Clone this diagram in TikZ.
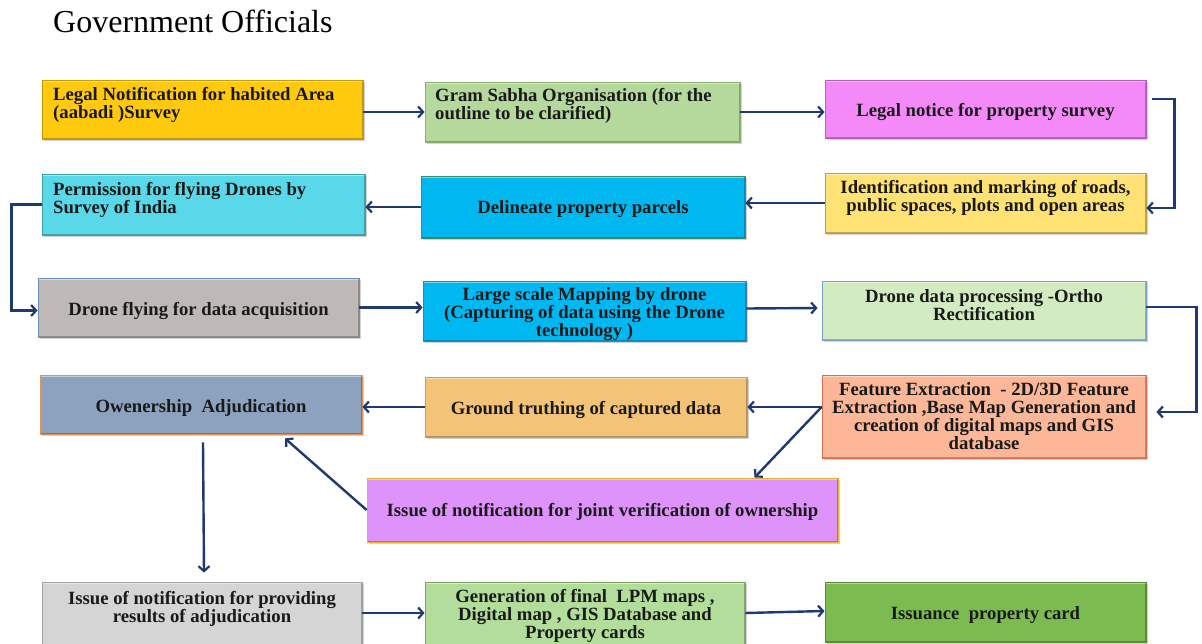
\documentclass[tikz,border=0pt]{standalone}
\usepackage{fontspec}
\setmainfont{Liberation Serif}
\usetikzlibrary{arrows.meta,shadows}
\definecolor{navy}{HTML}{1F3A6E}
\definecolor{cA1}{HTML}{FFC90E}\definecolor{dA1}{HTML}{C89B00}
\definecolor{cA2}{HTML}{B5D89D}\definecolor{dA2}{HTML}{8DB070}
\definecolor{cA3}{HTML}{F38AF8}\definecolor{dA3}{HTML}{B060B8}
\definecolor{cB1}{HTML}{58D8E8}\definecolor{dB1}{HTML}{3AA0A0}
\definecolor{cB2}{HTML}{00B7F0}\definecolor{dB2}{HTML}{3C8C6E}
\definecolor{cB3}{HTML}{FFE174}\definecolor{dB3}{HTML}{B8A040}
\definecolor{cC1}{HTML}{BEB9B7}\definecolor{dC1}{HTML}{6C8EBF}
\definecolor{cC2}{HTML}{00B8F1}\definecolor{dC2}{HTML}{3D7FB0}
\definecolor{cC3}{HTML}{D3EBC1}\definecolor{dC3}{HTML}{7F9FC0}
\definecolor{cD1}{HTML}{8DA2BF}\definecolor{dD1}{HTML}{E0915A}
\definecolor{cD2}{HTML}{F3C478}\definecolor{dD2}{HTML}{E0915A}
\definecolor{cD3}{HTML}{FBB797}\definecolor{dD3}{HTML}{D07050}
\definecolor{cE}{HTML}{DD93F9}\definecolor{dE}{HTML}{E8B030}
\definecolor{cF1}{HTML}{D5D5D5}\definecolor{dF1}{HTML}{A0A0A0}
\definecolor{cF2}{HTML}{B3DD9A}\definecolor{dF2}{HTML}{80A060}
\definecolor{cF3}{HTML}{7CBB50}\definecolor{dF3}{HTML}{5A8A3A}
\tikzset{
  box/.style={rectangle, inner sep=0pt, line width=0.8pt,
    drop shadow={shadow xshift=1.5pt,shadow yshift=-1.5pt,opacity=.35},
    path picture={
      \draw[white,opacity=.45,line width=3pt] (path picture bounding box.north west) -- (path picture bounding box.north east);
      \draw[black,opacity=.25,line width=3pt] (path picture bounding box.south west) -- (path picture bounding box.south east) -- (path picture bounding box.north east);
    }},
  txt/.style={inner sep=0pt, align=center, font=\bfseries\fontsize{18.7}{18}\selectfont, text=black!90},
  arr/.style={draw=navy, line width=2.4pt, -{Straight Barb[length=5pt,width=11pt,line width=2.2pt]}}
}
\begin{document}
\begin{tikzpicture}[x=1pt,y=-1pt]
\useasboundingbox (0,0) rectangle (1202,643);
\clip (0,0) rectangle (1202,643);
\fill[white] (0,0) rectangle (1202,643);

\node[anchor=base west, inner sep=0pt, font=\fontsize{32}{36}\selectfont] (title) at (53,32) {Government Officials};

% boxes
\node[box, fill=cA1, draw=dA1, minimum width=321pt, minimum height=59pt] (a1) at (202.5,109.5) {};
\node[box, fill=cA2, draw=dA2, minimum width=315pt, minimum height=60pt] (a2) at (582.5,112) {};
\node[box, fill=cA3, draw=dA3, minimum width=321pt, minimum height=58pt] (a3) at (985.5,109) {};
\node[box, fill=cB1, draw=dB1, minimum width=323pt, minimum height=61pt] (b1) at (203.5,204.5) {};
\node[box, fill=cB2, draw=dB2, minimum width=324pt, minimum height=62pt] (b2) at (583,207) {};
\node[box, fill=cB3, draw=dB3, minimum width=321pt, minimum height=60pt] (b3) at (985.5,203) {};
\node[box, fill=cC1, draw=dC1, minimum width=321pt, minimum height=59pt] (c1) at (198.5,307.5) {};
\node[box, fill=cC2, draw=dC2, minimum width=323pt, minimum height=60pt] (c2) at (584.5,311.5) {};
\node[box, fill=cC3, draw=dC3, minimum width=324pt, minimum height=59pt] (c3) at (984,310.5) {};
\node[box, fill=cD1, draw=dD1, minimum width=322pt, minimum height=59pt] (d1) at (201,404.5) {};
\node[box, fill=cD2, draw=dD2, minimum width=322pt, minimum height=60pt] (d2) at (586,407) {};
\node[box, fill=cD3, draw=dD3, minimum width=324pt, minimum height=83pt] (d3) at (984,416.5) {};
\node[box, fill=cE, draw=dE, minimum width=471pt, minimum height=64pt] (e) at (602.5,510) {};
\node[box, fill=cF1, draw=dF1, minimum width=320pt, minimum height=78pt] (f1) at (202,621) {};
\node[box, fill=cF2, draw=dF2, minimum width=320pt, minimum height=78pt] (f2) at (585,621) {};
\node[box, fill=cF3, draw=dF3, minimum width=321pt, minimum height=60pt] (f3) at (985.5,612) {};

% texts
\node[txt, anchor=north west, align=left] (a1t) at (53,87) {Legal Notification for habited Area\\(aabadi )Survey};
\node[txt, anchor=north west, align=left] (a2t) at (435,88.5) {Gram Sabha Organisation (for the\\outline to be clarified)};
\node[txt] (a3t) at ([yshift=-3pt]a3.center) {Legal notice for property survey};
\node[txt, anchor=north west, align=left] (b1t) at (53,182) {Permission for flying Drones by\\Survey of India};
\node[txt] (b2t) at ([yshift=-2pt]b2.center) {Delineate property parcels};
\node[txt, anchor=north] (b3t) at (985.5,180.5) {Identification and marking of roads,\\public spaces, plots and open areas};
\node[txt] (c1t) at ([yshift=-3pt]c1.center) {Drone flying for data acquisition};
\node[txt] (c2t) at ([yshift=-3pt]c2.center) {Large scale Mapping by drone\\(Capturing of data using the Drone\\technology )};
\node[txt, anchor=north] (c3t) at (984,289) {Drone data processing -Ortho\\Rectification};
\node[txt] (d1t) at ([yshift=-3pt]d1.center) {Owenership\ \ Adjudication};
\node[txt] (d2t) at ([yshift=-3pt]d2.center) {Ground truthing of captured data};
\node[txt] (d3t) at (d3.center) {Feature Extraction\ \ - 2D/3D Feature\\Extraction ,Base Map Generation and\\creation of digital maps and GIS\\database};
\node[txt] (et) at ([yshift=-2pt]e.center) {Issue of notification for joint verification of ownership};
\node[txt, anchor=north] (f1t) at (202,591) {Issue of notification for providing\\results of adjudication};
\node[txt, anchor=north] (f2t) at (585,589) {Generation of final\ \ LPM maps ,\\Digital map , GIS Database and\\Property cards};
\node[txt] (f3t) at ([yshift=-3pt]f3.center) {Issuance\ \ property card};

% connectors
\draw[arr] (a1.east |- a2.west) -- (a2.west);
\draw[arr] (a2.east) -- (a3.west |- a2.east);
\draw[arr] ([xshift=6pt,yshift=10pt]a3.east) -| ([xshift=28pt,yshift=-5pt]b3.east) -- ([yshift=-5pt]b3.east);
\draw[arr] (b3.west) -- (b2.east |- b3.west);
\draw[arr] (b2.west) -- (b1.east |- b2.west);
\draw[arr] (b1.west) -- ++(-30,0) |- ([yshift=-3pt]c1.west);
\draw[arr] (c1.east) -- (c2.west |- c1.east);
\draw[arr] ([yshift=3pt]c2.east) -- ([xshift=-4pt,yshift=2.5pt]c3.west);
\draw[arr] ([yshift=3.5pt]c3.east) -- ++(50,0) |- ([xshift=10pt,yshift=4.5pt]d3.east);
\draw[arr] ([yshift=9.5pt]d3.west) coordinate (d3o) -- (d3o -| d2.east);
\draw[arr] (d3o) -- ([xshift=152pt]e.north);
\draw[arr] (d2.west) -- (d1.east |- d2.west);
\draw[arr] (e.west) -- ([xshift=84pt,yshift=-4pt]d1.south);
\draw[arr] ([xshift=2pt,yshift=-8pt]d1.south) -- ([xshift=2pt,yshift=9pt]f1.north);
\draw[arr] ([yshift=8pt]f1.east) -- ([yshift=8pt]f2.west);
\draw[arr] ([yshift=8pt]f2.east) -- ([yshift=1pt]f3.west);
\end{tikzpicture}
\end{document}
